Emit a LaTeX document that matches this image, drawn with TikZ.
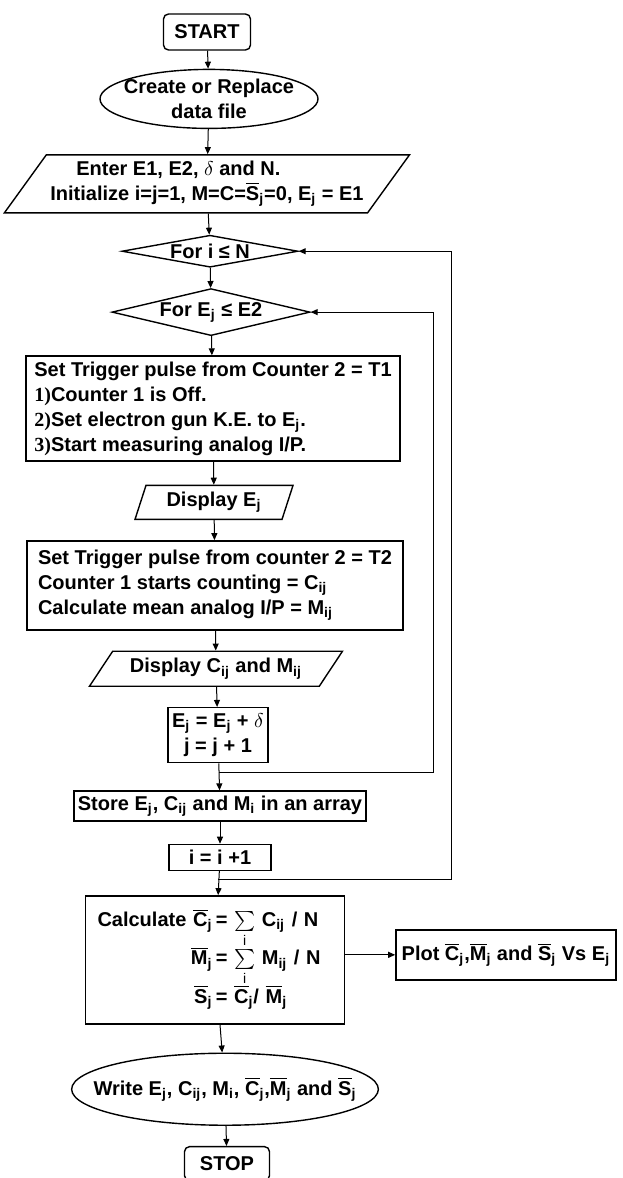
\documentclass[tikz,border=0pt]{standalone}
\usepackage{fontspec}
\setmainfont{Liberation Sans}
\newfontfamily\numfont{Liberation Serif}
\usetikzlibrary{positioning,arrows.meta,calc,shapes.geometric}
\tikzset{
  base/.style ={draw, line width=0.7pt, align=center, inner sep=2pt,
                font=\fontsize{10}{12.5}\selectfont\bfseries},
  term/.style ={base, rounded corners=2.5pt, minimum width=43.5pt, minimum height=18pt},
  proc/.style ={base, minimum height=15pt},
  io/.style   ={base, trapezium, trapezium stretches body},
  dec/.style  ={base, diamond, inner sep=0pt},
  oval/.style ={base, ellipse, inner ysep=0pt},
  fl/.style   ={-{Triangle[length=3.5pt,width=3pt]}, line width=0.5pt}
}
\newcommand{\Ej}{E\textsubscript{j}}
\newcommand{\Cij}{C\textsubscript{ij}}
\newcommand{\Mij}{M\textsubscript{ij}}
\newcommand{\ovl}[1]{$\overline{\mbox{#1}}$}

\begin{document}
\begin{tikzpicture}[node distance=10pt]
  \useasboundingbox (0,0) rectangle (311pt,-589pt);
  \node[term](start) at (103.5pt,-16pt){START};
  \node[oval, inner xsep=-4pt, minimum width=109pt, minimum height=29.5pt,
        below=9pt of start, xshift=1pt](create){Create or Replace\\data file};
  \node[io, trapezium left angle=52, trapezium right angle=128, align=left,
        minimum width=196pt, minimum height=29pt, below=12.5pt of create, xshift=-1pt](enter)
        {\hspace*{13pt}Enter E1, E2, $\delta$ and N.\\Initialize i=j=1, M=C=\ovl{S}\textsubscript{j}=0, \Ej{} = E1};

  % loop heads
  \node[dec, aspect=5.5, minimum width=88pt, minimum height=16pt, below=10.5pt of enter, xshift=1.5pt](fori){For i ≤ N};
  \node[dec, aspect=4.2, minimum width=99pt, minimum height=23.5pt, below=of fori, xshift=0.5pt](forE){For \Ej{} ≤ E2};

  % inner loop body
  \node[proc, align=left, inner xsep=4pt, minimum width=187pt, minimum height=52.5pt,
        below=9.5pt of forE, xshift=1pt](trig1){Set Trigger pulse from Counter 2 = T1\\
        {\numfont 1)}Counter 1 is Off.\\{\numfont 2)}Set electron gun K.E. to \Ej.\\
        {\numfont 3)}Start measuring analog I/P.};
  \node[io, trapezium left angle=69, trapezium right angle=111, minimum width=79pt,
        minimum height=17pt, below=11.5pt of trig1, xshift=0.5pt](dispE){Display \Ej};
  \node[proc, align=left, inner xsep=4pt, minimum width=188pt, minimum height=44.5pt,
        below=of dispE, xshift=0.5pt](trig2){Set Trigger pulse from counter 2 = T2\\
        Counter 1 starts counting = \Cij\\Calculate mean analog I/P = \Mij};
  \node[io, trapezium left angle=51, trapezium right angle=129, minimum width=126.5pt,
        minimum height=17.5pt, below=of trig2, xshift=0.5pt](dispC){Display \Cij{} and \Mij};
  \node[proc, minimum width=48.5pt, minimum height=27.5pt, below=of dispC, xshift=1pt](incE)
        {\Ej{} = \Ej{} + $\delta$\\j = j + 1};

  % after the loops
  \node[proc, minimum width=138pt, below=13.5pt of incE, xshift=1pt](store)
        {Store \Ej, \Cij{} and M\textsubscript{i} in an array};
  \node[proc, minimum width=51pt, minimum height=13pt, below=11pt of store](inci){i = i +1};
  \node[proc, align=left, text width=117.5pt, inner xsep=6pt, minimum height=64pt,
        below=12pt of inci, xshift=-2.5pt](calc){%
        \begin{tabular}{@{}r@{\,}l@{}}
        Calculate \ovl{C}\textsubscript{j} & = $\sum\limits_{\mathrm{i}}$ \Cij{} / N\\[6pt]
        \ovl{M}\textsubscript{j} & = $\sum\limits_{\mathrm{i}}$ \Mij{} / N\\[6pt]
        \ovl{S}\textsubscript{j} & = \ovl{C}\textsubscript{j}/ \ovl{M}\textsubscript{j}
        \end{tabular}};
  \node[proc, align=left, minimum width=110pt, minimum height=25pt, right=25pt of calc, yshift=2.5pt](plot)
        {Plot \ovl{C}\textsubscript{j},\ovl{M}\textsubscript{j} and \ovl{S}\textsubscript{j} Vs \Ej};
  \node[oval, inner xsep=-11.5pt, minimum width=153pt, minimum height=36pt, below=14pt of calc, xshift=5pt](write)
        {Write \Ej, \Cij, M\textsubscript{i}, \ovl{C}\textsubscript{j},\ovl{M}\textsubscript{j} and \ovl{S}\textsubscript{j}};
  \node[term, minimum width=42.5pt, minimum height=17pt, below=10pt of write, xshift=1pt](stop){STOP};

  % return points of the two loops
  \coordinate(jret) at ($(incE.south)!0.35!(store.north)$);
  \coordinate(iret) at ($(inci.south)!0.35!(calc.north)$);
  \coordinate(jcol) at ($(trig1.east)+(16.5pt,0)$);
  \coordinate(icol) at ($(trig1.east)+(25.5pt,0)$);

  \draw[fl](start)--(create);\draw[fl](create)--(enter);
  \draw[fl](enter)--(fori);\draw[fl](fori)--(forE);\draw[fl](forE)--(trig1);
  \draw[fl](trig1)--(dispE);\draw[fl](dispE)--(trig2);\draw[fl](trig2)--(dispC);
  \draw[fl](dispC)--(incE);\draw[fl](incE)--(store);
  \draw[fl](store)--(inci);\draw[fl](inci)--(calc);
  \draw[fl](calc)--(write);\draw[fl](write)--(stop);
  \draw[fl](calc.east|-plot)--(plot.west);
  \draw[fl](jret)--(jret-|jcol)--(jcol|-forE)--(forE.east);
  \draw[fl](iret)--(iret-|icol)--(icol|-fori)--(fori.east);
\end{tikzpicture}
\end{document}
